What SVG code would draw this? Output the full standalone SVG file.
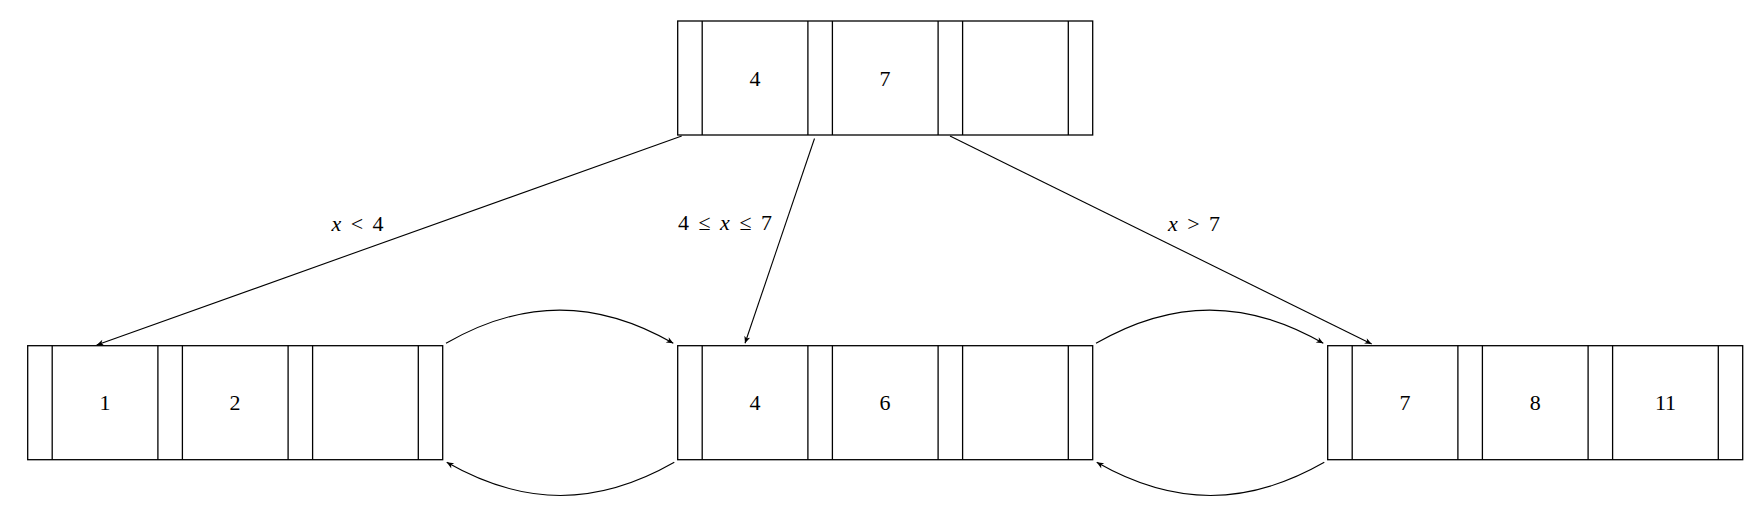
<svg xmlns="http://www.w3.org/2000/svg" width="1756" height="508" viewBox="0 0 1756 508">
<style>
.box{fill:none;stroke:#000;stroke-width:1.3}
.div{stroke:#000;stroke-width:1.3}
.num{font-family:"Liberation Serif","DejaVu Serif",serif;font-size:22px;fill:#000;text-anchor:middle}
.lbl{font-family:"Liberation Serif","DejaVu Serif",serif;font-size:22px;fill:#000;text-anchor:middle;word-spacing:4px}
.it{font-style:italic}
.conn{fill:none;stroke:#000;stroke-width:1.1;marker-end:url(#ah)}
</style>
<defs>
<marker id="ah" markerUnits="userSpaceOnUse" viewBox="-8 -5 10 10" refX="0" refY="0" markerWidth="10" markerHeight="10" orient="auto">
<path d="M0,0 L-7,-3 L-5,0 L-7,3 Z" fill="#000"/>
</marker>
<g id="cells">
<rect class="box" x="0" y="0" width="415" height="114"/>
<line class="div" x1="24.5" y1="0" x2="24.5" y2="114"/>
<line class="div" x1="130.2" y1="0" x2="130.2" y2="114"/>
<line class="div" x1="154.7" y1="0" x2="154.7" y2="114"/>
<line class="div" x1="260.4" y1="0" x2="260.4" y2="114"/>
<line class="div" x1="284.9" y1="0" x2="284.9" y2="114"/>
<line class="div" x1="390.6" y1="0" x2="390.6" y2="114"/>
</g>
</defs>
<rect width="1756" height="508" fill="#fff"/>
<g id="root">
<use href="#cells" x="677.7" y="21"/>
<text class="num" x="755" y="85.5">4</text>
<text class="num" x="885" y="85.5">7</text>
</g>
<g id="leaf1">
<use href="#cells" x="27.7" y="345.7"/>
<text class="num" x="105" y="410">1</text>
<text class="num" x="235" y="410">2</text>
</g>
<g id="leaf2">
<use href="#cells" x="677.7" y="345.7"/>
<text class="num" x="755" y="410">4</text>
<text class="num" x="885" y="410">6</text>
</g>
<g id="leaf3">
<use href="#cells" x="1327.7" y="345.7"/>
<text class="num" x="1405" y="410">7</text>
<text class="num" x="1535.3" y="410">8</text>
<text class="num" x="1665.5" y="410">11</text>
</g>
<g id="connectors">
<path class="conn" d="M681.7,136 L96.7,345"/>
<path class="conn" d="M814.5,138.5 L745,343.3"/>
<path class="conn" d="M950,136 L1371.7,344"/>
<path class="conn" d="M446,343.3 C523,299 596.5,299 673.3,343.3"/>
<path class="conn" d="M674.3,462.3 C597,506.5 524,506.5 446.7,462.3"/>
<path class="conn" d="M1096,343.3 C1173,299 1246.5,299 1323.3,343.3"/>
<path class="conn" d="M1324.3,462.3 C1247,506.5 1174,506.5 1096.7,462.3"/>
</g>
<g id="labels">
<text class="lbl" x="357.5" y="231"><tspan class="it">x</tspan> &lt; 4</text>
<text class="lbl" x="725" y="230">4 ≤ <tspan class="it">x</tspan> ≤ 7</text>
<text class="lbl" x="1194" y="231"><tspan class="it">x</tspan> &gt; 7</text>
</g>
</svg>
